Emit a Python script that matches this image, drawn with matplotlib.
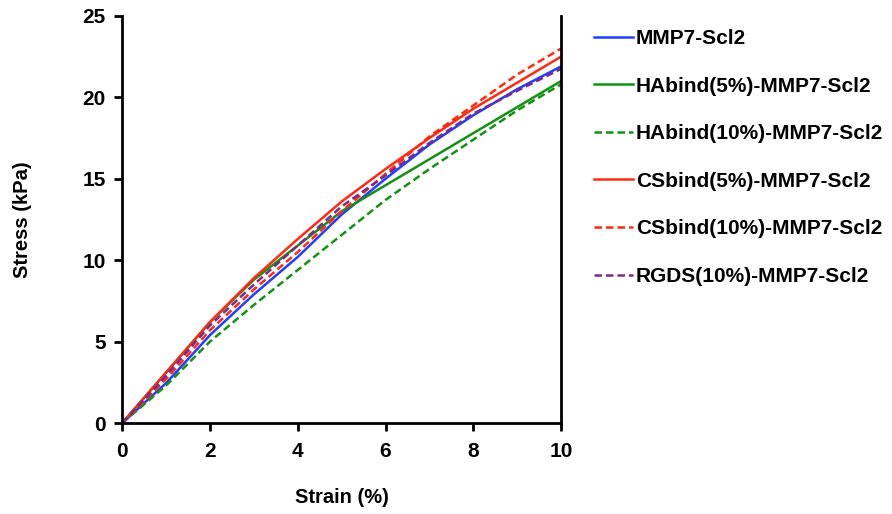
import matplotlib.pyplot as plt

plt.rcParams['font.family'] = ['Liberation Sans', 'DejaVu Sans']
plt.rcParams['font.weight'] = 'bold'

strain = [0, 1, 2, 3, 4, 5, 6, 7, 8, 9, 10]

mmp7 = [0, 2.45, 5.4, 7.9, 10.2, 12.8, 15.0, 17.1, 18.9, 20.5, 21.9]
ha5 = [0, 3.1, 6.2, 8.8, 10.9, 13.0, 14.6, 16.2, 17.8, 19.4, 21.0]
ha10 = [0, 2.3, 5.0, 7.25, 9.4, 11.55, 13.7, 15.6, 17.4, 19.2, 20.8]
cs5 = [0, 3.1, 6.2, 8.9, 11.3, 13.6, 15.6, 17.5, 19.3, 20.9, 22.5]
cs10 = [0, 2.7, 5.7, 8.2, 10.5, 13.0, 15.3, 17.6, 19.5, 21.4, 23.0]
rgds = [0, 2.9, 6.0, 8.5, 10.9, 13.3, 15.2, 17.2, 19.0, 20.4, 21.75]

fig = plt.figure(figsize=(8.92, 5.14), dpi=100)
ax = fig.add_axes([0.137, 0.177, 0.492, 0.792])

dash = (0, (3, 1.6))
ax.plot(strain, mmp7, color='#1f3fff', lw=1.8, label='MMP7-Scl2')
ax.plot(strain, ha5, color='#139113', lw=1.8, label='HAbind(5%)-MMP7-Scl2')
ax.plot(strain, ha10, color='#139113', lw=1.8, ls=dash, label='HAbind(10%)-MMP7-Scl2')
ax.plot(strain, cs5, color='#ff2a10', lw=1.8, label='CSbind(5%)-MMP7-Scl2')
ax.plot(strain, cs10, color='#ff2a10', lw=1.8, ls=dash, label='CSbind(10%)-MMP7-Scl2')
ax.plot(strain, rgds, color='#7a2a8c', lw=1.8, ls=dash, label='RGDS(10%)-MMP7-Scl2')

ax.set_xlim(0, 10)
ax.set_ylim(0, 25)
ax.set_xticks([0, 2, 4, 6, 8, 10])
ax.set_yticks([0, 5, 10, 15, 20, 25])
ax.spines['top'].set_visible(False)
for s in ['left', 'bottom', 'right']:
    ax.spines[s].set_linewidth(2)
ax.tick_params(direction='out', length=6, width=2, labelsize=15)
ax.tick_params(axis='x', pad=8)
ax.tick_params(axis='y', pad=6)

ax.set_xlabel('Strain (%)', fontsize=14.5, fontweight='bold', labelpad=19)
ax.set_ylabel('Stress (kPa)', fontsize=14.5, fontweight='bold', labelpad=36)

ax.legend(loc='upper left', bbox_to_anchor=(1.057, 0.988), frameon=False,
          fontsize=15, labelspacing=1.37, handlelength=1.85, handletextpad=0.15,
          borderaxespad=0)

fig.savefig('out.png', dpi=100)
